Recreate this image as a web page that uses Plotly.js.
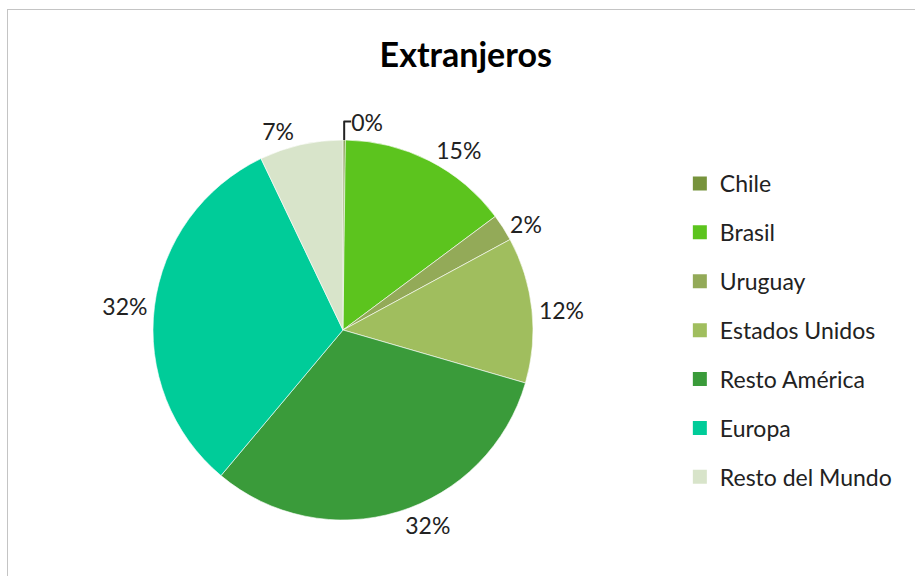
<!DOCTYPE html>
<html>
<head>
<meta charset="utf-8">
<script src="https://cdn.plot.ly/plotly-3.0.1.min.js"></script>
<style>
html,body{margin:0;padding:0;background:#fff;overflow:hidden;}
#chart{position:absolute;left:0;top:0;width:915px;height:576px;}
#frame{position:absolute;left:7px;top:9px;width:930px;height:600px;border:1px solid #c4c4c4;pointer-events:none;}
</style>
</head>
<body>
<div id="chart"></div>
<div id="frame"></div>
<script>
const categories = ["Chile", "Brasil", "Uruguay", "Estados Unidos", "Resto América", "Europa", "Resto del Mundo"];
const shares = [0.2, 14.6, 2.3, 12.4, 31.6, 31.8, 7.1];
const colors = ["#77933C", "#5CC41E", "#93AA58", "#A0BE5E", "#3A9B3A", "#00CC99", "#D8E4CA"];
const chartTitle = "Extranjeros";

const FONT = "Lato, 'Open Sans', sans-serif";

const traces = [{
  type: "pie",
  labels: categories,
  values: shares,
  sort: false,
  direction: "clockwise",
  rotation: 0,
  marker: {colors: colors, line: {color: "rgba(255,255,255,0.6)", width: 1}},
  textposition: "outside",
  texttemplate: "%{percent:.0%}",
  textfont: {family: FONT, size: 23, color: "#222"},
  showlegend: false,
  hoverinfo: "label+percent",
  domain: {x: [0.1672, 0.5825], y: [0.0972, 0.757]}
}];

categories.forEach((c, i) => {
  traces.push({
    type: "scatter",
    mode: "markers",
    x: [null], y: [null],
    name: c,
    legendgroup: c,
    marker: {symbol: "square", size: 14, color: colors[i]},
    showlegend: true,
    hoverinfo: "skip"
  });
});

const layout = {
  width: 915, height: 576,
  margin: {l: 0, r: 0, t: 0, b: 0},
  paper_bgcolor: "#fff", plot_bgcolor: "#fff",
  title: {text: "<b>" + chartTitle + "</b>", font: {family: FONT, size: 34, color: "#000"},
          x: 0.509, xanchor: "center", y: 1 - 55/576, yref: "container", yanchor: "middle"},
  xaxis: {visible: false}, yaxis: {visible: false},
  legend: {x: 0.743, xanchor: "left", y: 1 - 162/576, yanchor: "top",
           font: {family: FONT, size: 23, color: "#222"},
           tracegroupgap: 16, itemwidth: 30, bgcolor: "rgba(0,0,0,0)"},
  showlegend: true
};

Plotly.newPlot("chart", traces, layout, {displayModeBar: false, staticPlot: true});
</script>
</body>
</html>
